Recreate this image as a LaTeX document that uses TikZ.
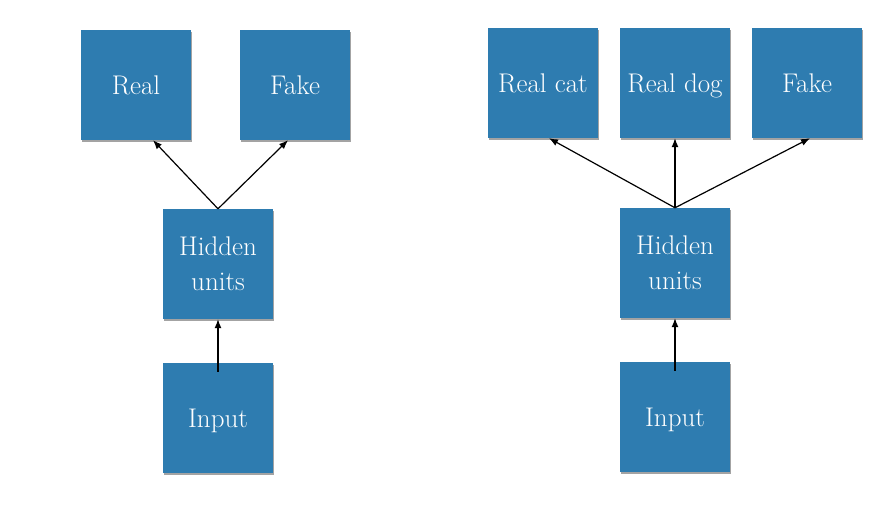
\documentclass[tikz,border=0pt]{standalone}
\usepackage{tikz}
\usetikzlibrary{positioning, arrows.meta, shadows}

\definecolor{boxblue}{RGB}{46,124,176}

\begin{document}
\begin{tikzpicture}[
    x=1pt, y=-1pt,
    every node/.style = {rectangle, fill=boxblue, text=white, minimum size=110pt, inner sep=0pt,
                         align=center, font=\fontsize{27}{35}\selectfont,
                         drop shadow={shadow xshift=1pt, shadow yshift=-1.5pt, opacity=0.45, fill=black!80}},
    oneline/.style = {text depth=0pt},
    conn/.style = {->, line width=1.2pt},
    >={Latex[length=9pt, width=7pt]}
]

\path[fill=white] (0,0) rectangle (892,506);

% left network: real / fake
\node[oneline] (real)  at (136, 85)  {Real};
\node[oneline] (fake)  at (295, 85)  {Fake};
\node          (hidl)  at (218, 264) {Hidden\\units};
\node[oneline] (inl)   at (218, 418) {Input};

% right network: real cat / real dog / fake
\node[oneline] (cat)   at (543, 83)  {Real cat};
\node[oneline] (dog)   at (675, 83)  {Real dog};
\node[oneline] (faker) at (807, 83)  {Fake};
\node          (hidr)  at (675, 263) {Hidden\\units};
\node[oneline] (inr)   at (675, 417) {Input};

% connections: left
\draw[conn] ([yshift=-9pt]inl.north) -- (hidl.south);
\draw[conn] (hidl.north) -- ([xshift=17pt]real.south);
\draw[conn] (hidl.north) -- ([xshift=-7pt]fake.south);

% connections: right
\draw[conn] ([yshift=-9pt]inr.north) -- (hidr.south);
\draw[conn] (hidr.north) -- ([xshift=6pt]cat.south);
\draw[conn] (hidr.north) -- (dog.south);
\draw[conn] (hidr.north) -- ([xshift=3pt]faker.south);

\end{tikzpicture}
\end{document}
